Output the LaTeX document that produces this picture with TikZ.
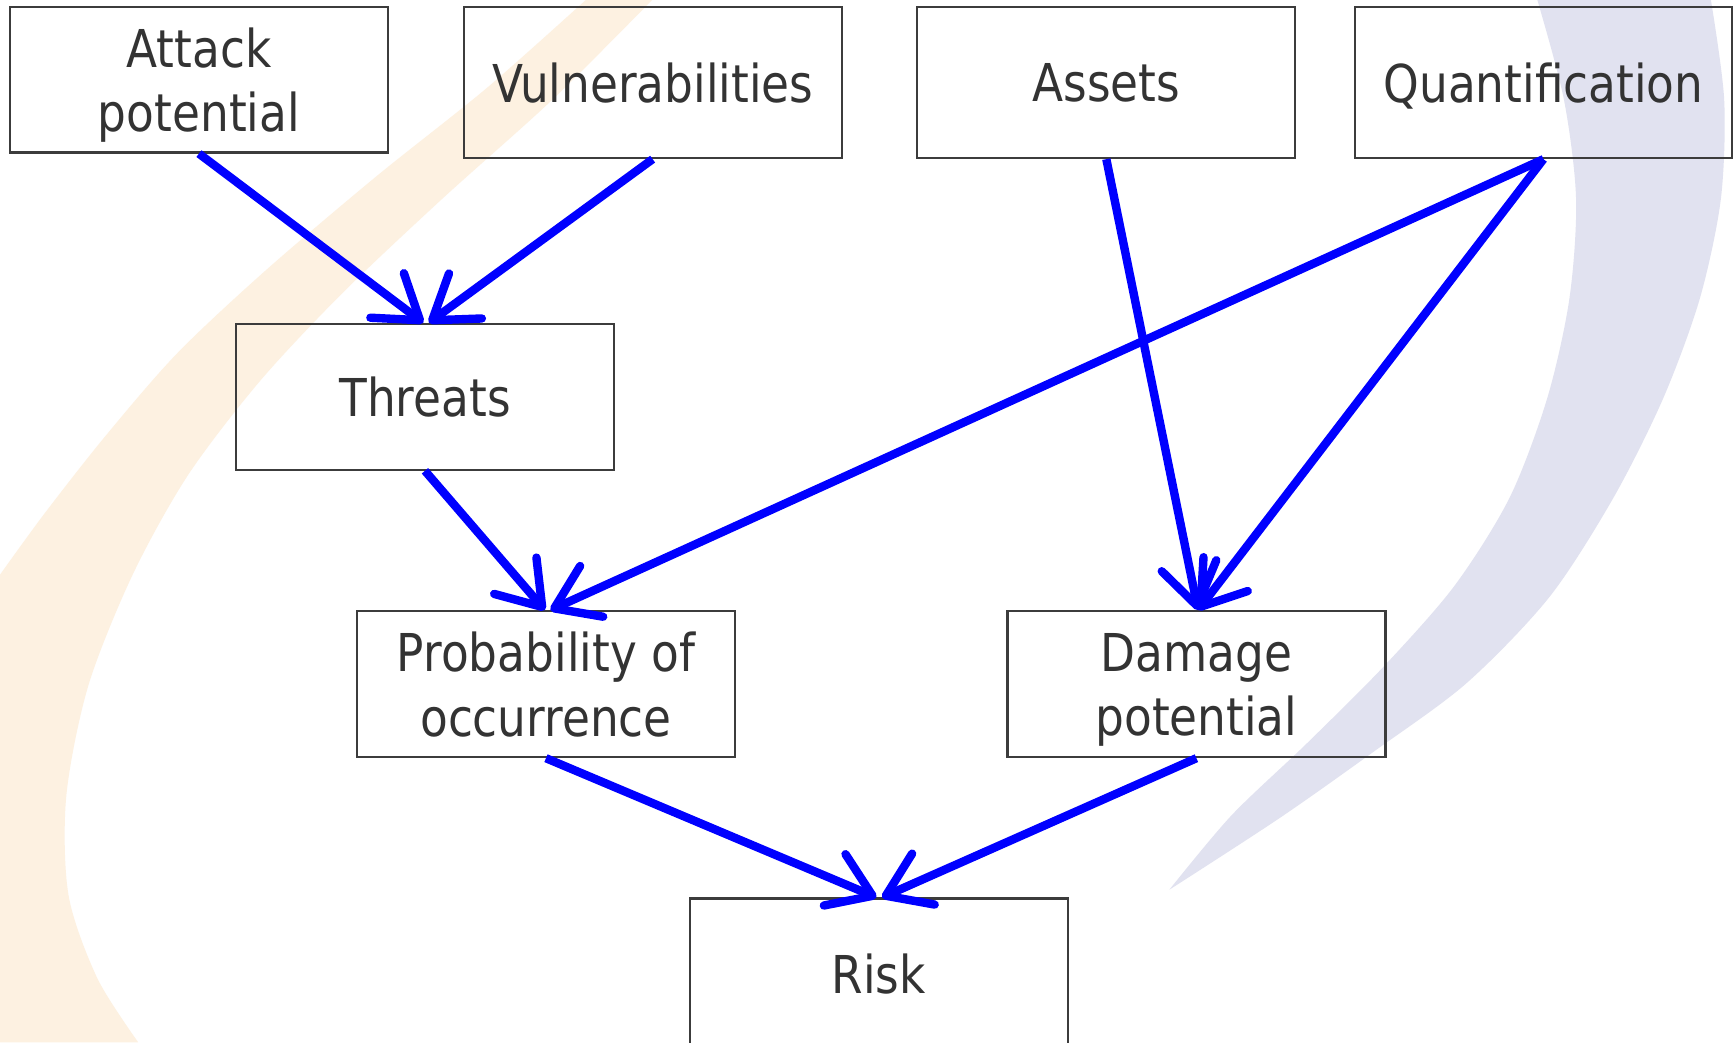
\documentclass[tikz,border=0pt]{standalone}
\usepackage{fontspec}
\usetikzlibrary{arrows.meta}
\newfontfamily\boxfont[FakeStretch=0.87]{DejaVu Sans}
\definecolor{txtgray}{HTML}{333333}
\definecolor{boxgray}{HTML}{3C3C3C}
\definecolor{swooshorange}{HTML}{FDF1E1}
\definecolor{swooshlav}{HTML}{E1E2F0}
\definecolor{arrowblue}{HTML}{0000FF}
\tikzset{
  box/.style={draw=boxgray, line width=1pt, rectangle, minimum width=171pt,
    minimum height=66pt, align=center, text=txtgray, text depth=0pt,
    inner sep=0pt, font=\boxfont\fontsize{23.6}{29}\selectfont},
  tallbox/.style={box, minimum height=68.5pt},
  conn/.style={draw=arrowblue, line width=3.8pt,
    -{Straight Barb[length=18.6pt, width=25.2pt, line width=3.8pt, round]}}
}
\begin{document}
\begin{tikzpicture}[x=0.5pt, y=-0.5pt]
\clip (0,0) rectangle (1568,943);
\fill[white] (0,0) rectangle (1568,943);
% background swooshes
\fill[swooshorange] plot[smooth] coordinates {(530,0) (440,80) (340,160) (240,245) (160,320) (95,395) (40,465) (0,520)}
  -- (0,943) -- (125,943) -- plot[smooth] coordinates {(125,943) (88,885) (62,810) (60,720) (80,620) (120,520) (170,430) (235,345) (310,265) (400,180) (500,90) (590,0)} -- cycle;
\fill[swooshlav] plot[smooth] coordinates {(1391,0) (1415,90) (1426,180) (1420,270) (1400,360) (1366,450) (1316,530) (1252,603) (1182,673) (1114,738) (1058,805)}
  -- plot[smooth] coordinates {(1058,805) (1158,740) (1243,680) (1327,618) (1402,540) (1460,450) (1505,360) (1538,270) (1557,180) (1560,90) (1548,0)} -- cycle;
% boxes
\node[box] (attack) at (180,72) {Attack\\potential};
\node[tallbox] (vuln) at (590.5,74.5) {Vulnerabilities};
\node[tallbox] (assets) at (1001,74.5) {Assets};
\node[tallbox, minimum width=170.5pt] (quant) at (1396.5,74.5) {Quantification};
\node[box] (threats) at (384.5,359) {Threats};
\node[box] (prob) at (494,619) {Probability of\\occurrence};
\node[box] (damage) at (1082.5,619) {Damage\\potential};
\node[box, minimum height=68pt] (risk) at (795,881) {Risk};
% connectors
\draw[conn] (attack.south) -- ([xshift=-0.75pt]threats.north);
\draw[conn] (vuln.south) -- ([xshift=1.75pt]threats.north);
\draw[conn] (assets.south) -- ([xshift=0.75pt]damage.north);
\draw[conn] (quant.south) -- ([xshift=2pt]prob.north);
\draw[conn] (quant.south) -- ([xshift=0.75pt]damage.north);
\draw[conn] (threats.south) -- ([xshift=-0.5pt]prob.north);
\draw[conn] (prob.south) -- ([xshift=-1pt]risk.north);
\draw[conn] (damage.south) -- ([xshift=1.5pt]risk.north);
\end{tikzpicture}
\end{document}
